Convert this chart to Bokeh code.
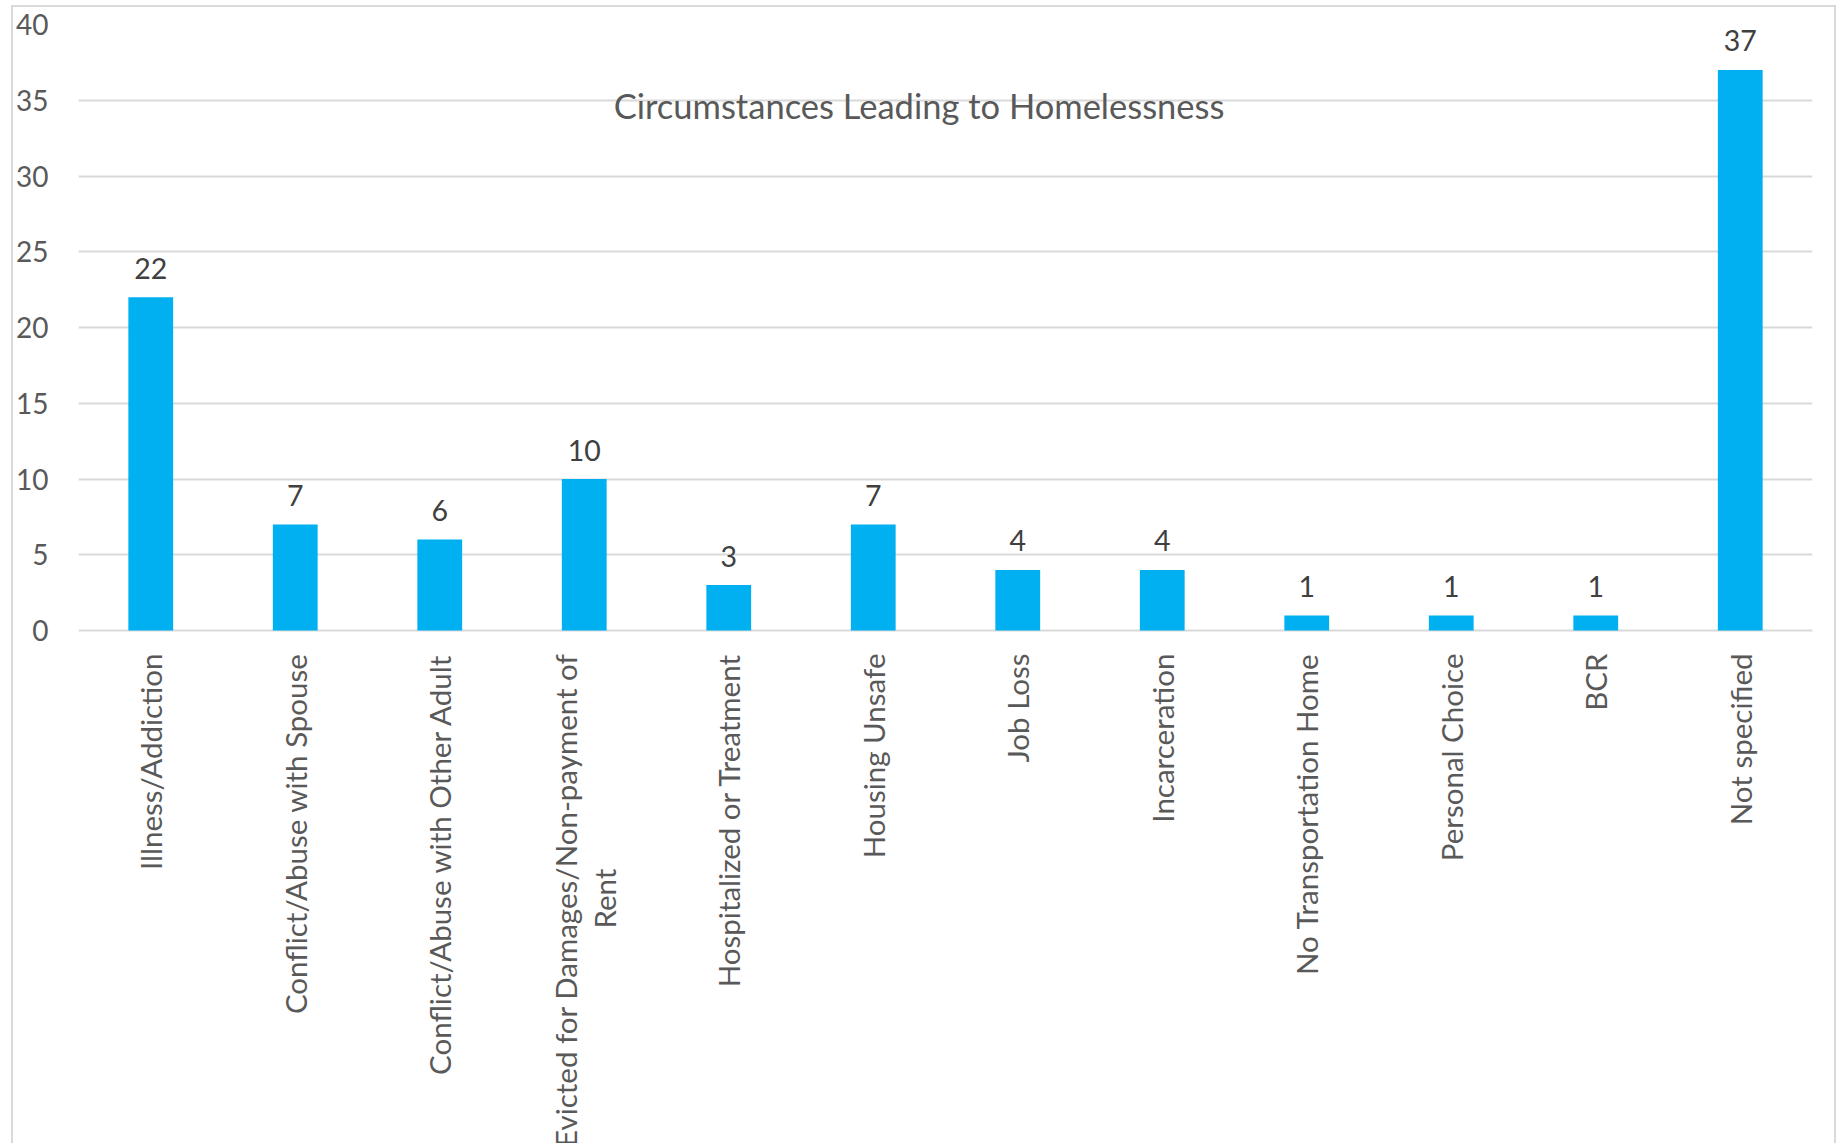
import math
from bokeh.plotting import figure
from bokeh.models import FixedTicker, Range1d, FactorRange, Label, ColumnDataSource
from bokeh.core.properties import value
from bokeh.embed import file_html
from bokeh.resources import INLINE

# ---- data ----
categories = [
    "Illness/Addiction",
    "Conflict/Abuse with Spouse",
    "Conflict/Abuse with Other Adult",
    "Evicted for Damages/Non-payment of Rent",
    "Hospitalized or Treatment",
    "Housing Unsafe",
    "Job Loss",
    "Incarceration",
    "No Transportation Home",
    "Personal Choice",
    "BCR",
    "Not specified",
]
counts = [22, 7, 6, 10, 3, 7, 4, 4, 1, 1, 1, 37]
y_ticks = [0, 5, 10, 15, 20, 25, 30, 35, 40]
chart_title = "Circumstances Leading to Homelessness"
# category whose label wraps onto two lines in the original
wrapped = {"Evicted for Damages/Non-payment of Rent": ["Evicted for Damages/Non-payment of", "Rent"]}

FONT = "Lato"
BAR = "#00B0F0"
GRID = "#D9D9D9"
TXT = "#595959"
LBL = "#404040"
CAT_SIZE = "29.5px"

W, H = 1825, 1138
p = figure(
    width=W, height=H,
    x_range=FactorRange(*categories, range_padding=0),
    y_range=Range1d(-33.99, 40),
    x_axis_location=None,
    output_backend="svg", toolbar_location=None,
    min_border_left=64, min_border_right=26, min_border_top=17, min_border_bottom=0,
)
p.styles = {
    "margin-left": "11px", "margin-top": "5px",
    "border-left": "2px solid #D9D9D9", "border-top": "2px solid #D9D9D9",
    "border-right": "2px solid #D9D9D9",
}
p.outline_line_color = None
p.background_fill_color = "white"
p.border_fill_color = "white"

p.xgrid.grid_line_color = None
p.ygrid.ticker = FixedTicker(ticks=y_ticks)
p.ygrid.grid_line_color = GRID
p.ygrid.grid_line_width = 2

ax = p.yaxis[0]
ax.ticker = FixedTicker(ticks=y_ticks)
ax.axis_line_color = None
ax.major_tick_line_color = None
ax.minor_tick_line_color = None
ax.major_tick_in = 0
ax.major_tick_out = 0
ax.major_label_standoff = 30
ax.major_label_text_font = FONT
ax.major_label_text_font_size = "28px"
ax.major_label_text_color = TXT

src = ColumnDataSource(dict(cat=categories, count=counts, lab=[str(c) for c in counts]))
p.vbar(x="cat", top="count", width=0.31, source=src, fill_color=BAR, line_color=None)

p.text(x="cat", y="count", text="lab", source=src, text_align="center",
       text_baseline="alphabetic", y_offset=-29, text_font=value(FONT),
       text_font_size="28.5px", text_color=LBL)

# category labels (rotated)
single = [c for c in categories if c not in wrapped]
p.text(x=single, y=[0] * len(single), text=single, angle=math.pi / 2,
       text_align="right", text_baseline="middle", y_offset=23,
       text_font=value(FONT), text_font_size=CAT_SIZE, text_color=TXT)
for cat, lines in wrapped.items():
    p.text(x=[cat], y=[0], text=[lines[0]], angle=math.pi / 2,
           text_align="right", text_baseline="middle", x_offset=-19, y_offset=23,
           text_font=value(FONT), text_font_size=CAT_SIZE, text_color=TXT)
    p.text(x=[cat], y=[0], text=[lines[1]], angle=math.pi / 2,
           text_align="center", text_baseline="middle", x_offset=20, y_offset=268,
           text_font=value(FONT), text_font_size=CAT_SIZE, text_color=TXT)

p.add_layout(Label(x=5.817, y=34.68, text=chart_title, text_align="center",
                   text_baseline="alphabetic", text_font=FONT,
                   text_font_size="34.5px", text_color=TXT))

open("out.html", "w").write(file_html(p, INLINE))
